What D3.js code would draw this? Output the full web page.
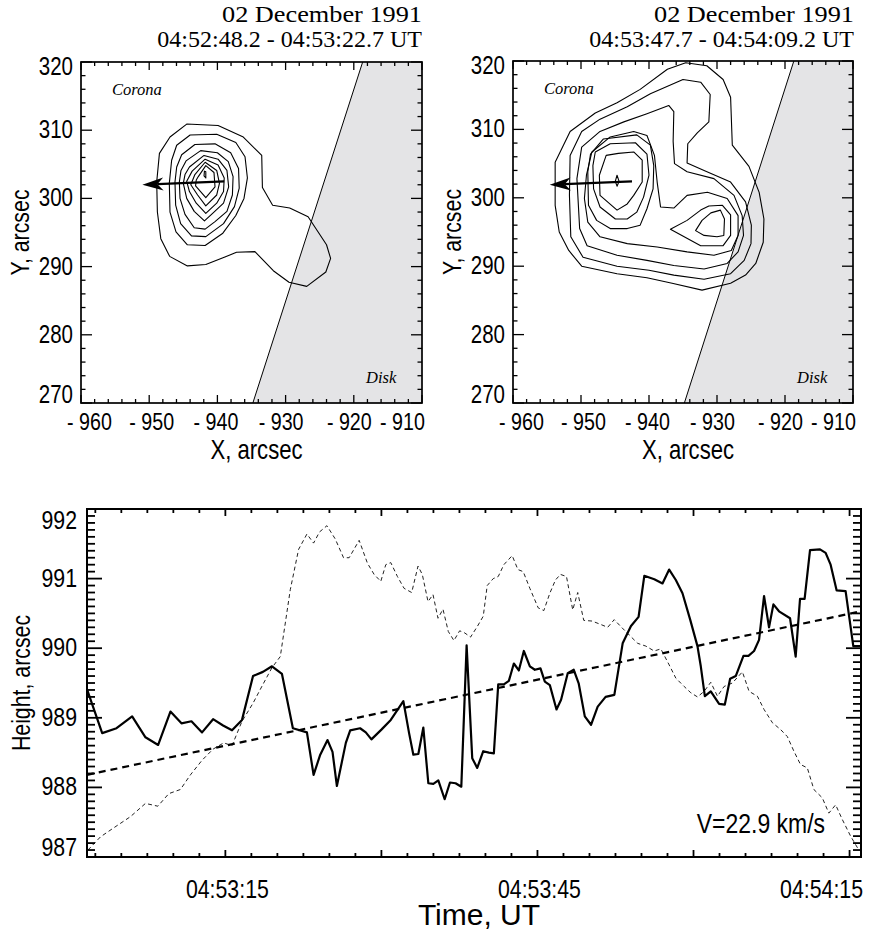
<!DOCTYPE html>
<html>
<head>
<meta charset="utf-8">
<script src="https://cdn.jsdelivr.net/npm/d3@7"></script>
<style>
  body { margin: 0; background: #fff; }
  svg { display: block; }
</style>
</head>
<body>
<svg id="fig" width="869" height="933"></svg>
<script>
// ---------------- data ----------------
const dateLabel = "02 December 1991";
const intervalLabels = ["04:52:48.2 - 04:53:22.7 UT", "04:53:47.7 - 04:54:09.2 UT"];

const mapXTicks = [-960, -950, -940, -930, -920, -910];
const mapYTicks = [270, 280, 290, 300, 310, 320];

// solar limb (straight segment across the field of view), arcsec
const limbX = [-934.8, -918.7];
const limbY = [270, 320];

// contours of the first map (arcsec), outermost first
const map1Outer = [[-946.95,309.0],[-944.5,310.9],[-939.9,310.7],[-936.2,309.0],[-933.5,306.3],[-933.4,301.6],[-931.9,299.0],[-929.4,298.6],[-926.7,297.3],[-924.0,293.2],[-923.4,291.2],[-924.1,289.2],[-926.9,287.1],[-929.5,287.7],[-931.8,289.4],[-934.5,292.2],[-937.2,292.1],[-938.9,291.4],[-941.7,290.3],[-944.4,290.1],[-947.0,291.5],[-948.3,294.1],[-948.8,298.0],[-948.9,302.4],[-948.5,306.6]];
const map1C2 = [[-945.97,307.8],[-944.0,309.3],[-940.1,309.4],[-937.3,308.2],[-935.95,306.1],[-935.6,303.0],[-936.1,300.0],[-937.3,297.5],[-939.2,294.9],[-941.8,293.1],[-944.4,293.2],[-946.07,295.1],[-946.95,298.0],[-947.05,302.2],[-946.71,305.6]];
const map1C3 = [[-945.24,306.4],[-943.3,307.9],[-940.35,308.0],[-938.05,306.7],[-936.9,304.4],[-936.8,301.5],[-937.5,298.8],[-939.1,296.3],[-941.7,294.4],[-943.8,294.5],[-945.39,296.3],[-946.12,299.0],[-946.22,302.4],[-945.97,304.6]];
const map1C4 = [[-944.6,305.5],[-942.45,307.0],[-940.0,306.7],[-938.4,305.4],[-937.7,303.2],[-937.8,300.5],[-938.6,298.1],[-940.35,296.6],[-941.8,295.5],[-943.4,295.7],[-944.75,297.65],[-945.48,300.0],[-945.58,302.4],[-945.34,304.1]];
const map1C5 = [[-944.1,304.6],[-941.96,306.3],[-939.9,305.75],[-938.6,304.1],[-938.35,301.7],[-939.1,299.3],[-940.7,297.8],[-941.9,296.7],[-943.4,298.1],[-944.5,300.0],[-945.0,302.2],[-944.75,303.5]];
const map1C6 = [[-943.7,304.0],[-941.8,305.75],[-939.9,304.9],[-939.0,303.0],[-939.1,301.0],[-940.1,299.3],[-941.7,297.8],[-943.1,299.3],[-944.1,301.0],[-944.5,302.5]];
const map1C7 = [[-943.3,303.5],[-941.8,305.3],[-940.1,304.1],[-939.7,302.2],[-940.1,300.5],[-941.7,298.9],[-942.9,300.5],[-943.9,302.0]];
const map1C8 = [[-942.8,303.2],[-941.7,304.8],[-940.5,303.8],[-940.35,301.7],[-941.7,300.1],[-943.2,301.85],[-943.1,302.7]];
const map1Peak = [[-941.9,304.0],[-941.7,303.9],[-941.7,303.0],[-941.96,303.3]];
const map1Arrow = { from: [-939.0, 302.5], to: [-951.0, 302.0] };

// contours of the second map (arcsec)
const map2Outer = [[-953.8,305.2],[-951.6,309.7],[-947.9,312.4],[-944.7,313.9],[-941.3,315.85],[-937.3,318.8],[-934.6,319.75],[-931.5,319.3],[-929.1,317.3],[-928.0,314.7],[-927.75,307.7],[-925.3,304.6],[-923.8,300.8],[-923.1,296.9],[-923.2,293.5],[-924.3,290.4],[-925.8,288.7],[-928.0,287.5],[-932.2,286.5],[-936.6,287.5],[-940.3,288.3],[-944.7,288.9],[-949.9,290.0],[-951.8,292.3],[-953.2,295.0],[-953.8,298.9]];
const map2C2 = [[-951.6,306.2],[-949.9,309.7],[-947.2,311.5],[-943.2,313.3],[-939.8,315.2],[-935.0,317.3],[-932.4,316.9],[-931.0,315.1],[-931.2,311.1],[-932.9,309.5],[-934.3,307.9],[-934.4,305.1],[-931.9,304.0],[-928.0,302.3],[-925.8,299.4],[-924.95,296.0],[-925.0,293.3],[-926.0,290.85],[-928.0,288.9],[-931.9,288.1],[-936.35,288.7],[-940.0,289.4],[-944.7,290.0],[-949.7,291.3],[-951.5,294.3],[-951.7,300.35]];
const map2C3 = [[-950.6,302.8],[-949.9,307.4],[-947.2,309.7],[-943.7,311.1],[-940.3,312.3],[-937.1,313.5],[-936.35,312.6],[-936.45,308.25],[-936.25,305.0],[-934.4,303.8],[-930.45,302.8],[-927.5,300.35],[-926.3,297.4],[-926.1,294.5],[-926.9,292.1],[-928.5,290.4],[-931.9,289.6],[-936.35,290.1],[-940.3,290.85],[-944.7,291.6],[-949.1,293.0],[-950.2,295.5]];
const map2C4 = [[-949.2,303.3],[-948.4,306.7],[-945.7,308.9],[-942.25,309.7],[-940.3,309.1],[-939.2,306.2],[-938.8,302.3],[-938.3,298.65],[-936.35,298.5],[-934.4,300.35],[-931.4,300.8],[-928.5,299.9],[-926.9,297.4],[-926.9,294.5],[-927.9,292.3],[-930.45,291.6],[-934.4,292.1],[-938.8,292.8],[-943.2,293.3],[-947.2,294.3],[-949.0,296.45],[-949.5,299.9]];
const map2C5 = [[-948.6,306.4],[-946.7,308.6],[-941.8,309.2],[-939.8,307.7],[-939.3,304.7],[-939.4,301.3],[-940.3,298.4],[-941.3,296.0],[-943.2,295.5],[-945.7,295.5],[-947.7,296.7],[-948.9,298.9],[-949.0,303.8]];
const map2C6 = [[-947.9,306.7],[-945.7,307.9],[-942.0,308.05],[-940.3,306.4],[-940.0,303.3],[-940.8,300.1],[-941.8,297.9],[-943.2,296.9],[-944.95,296.9],[-947.2,298.65],[-948.15,301.3],[-948.25,304.7]];
const map2C7 = [[-946.3,306.2],[-944.5,306.5],[-942.25,306.7],[-941.0,305.5],[-941.0,302.3],[-942.25,300.35],[-943.2,299.1],[-944.7,298.2],[-947.2,300.35],[-947.3,303.3]];
const map2Peak = [[-944.96,302.4],[-944.7,303.3],[-944.4,302.4],[-944.7,301.7]];
const map2Second1 = [[-936.85,295.4],[-934.4,296.7],[-932.4,298.2],[-931.2,298.8],[-929.2,298.9],[-928.0,297.5],[-928.0,294.5],[-929.1,293.0],[-932.4,293.0]];
const map2Second2 = [[-933.15,295.2],[-932.2,296.7],[-930.9,297.8],[-929.5,298.2],[-928.9,296.9],[-929.0,294.5],[-930.0,294.3],[-931.9,294.5]];
const map2Arrow = { from: [-942.5, 302.4], to: [-954.6, 301.9] };

// height-time plot
const epoch = Date.UTC(1991, 11, 2, 4, 53, 0);        // 04:53:00 UT
const timeRange = [1.7, 76.1];                          // seconds after epoch
const timeTickLabels = ["04:53:15", "04:53:45", "04:54:15"];
const heightTicks = [987, 988, 989, 990, 991, 992];

// source height (arcsec from disk centre)
const heightTimes = [1.72,3.16,4.54,6.04,7.32,8.54,9.72,10.78,11.74,12.76,13.82,14.78,15.64,16.60,17.66,18.61,19.48,20.44,21.49,22.84,23.48,24.12,24.82,25.30,25.72,26.58,27.00,27.95,28.50,29.04,30.00,30.90,32.11,32.66,33.07,33.55,34.03,34.51,34.99,35.47,36.08,36.59,37.13,37.68,38.19,38.73,39.21,39.79,40.33,40.81,41.23,41.77,42.25,42.73,43.21,43.69,44.27,44.75,45.29,45.71,46.19,46.83,47.27,47.91,48.49,48.97,49.55,50.15,50.79,51.55,52.39,53.19,53.99,54.72,55.27,56.23,57.02,57.66,58.30,58.94,59.68,60.38,60.70,61.09,61.66,62.46,63.01,63.52,64.06,64.80,65.28,65.82,66.30,66.78,67.26,67.68,68.22,69.28,69.82,70.24,70.68,71.20,72.16,72.70,73.18,73.76,74.62,75.36,76.06];
const heightValues = [989.40,988.78,988.85,989.02,988.72,988.61,989.09,988.92,988.95,988.79,988.98,988.89,988.82,988.97,989.60,989.66,989.74,989.63,988.85,988.79,988.18,988.47,988.68,988.51,988.02,988.64,988.82,988.85,988.79,988.69,988.83,988.97,989.24,988.78,988.47,988.48,988.86,988.06,988.05,988.10,987.83,988.07,988.06,988.01,990.04,988.42,988.28,988.52,988.50,988.49,989.48,989.48,989.53,989.78,989.68,989.96,989.74,989.69,989.71,989.52,989.47,989.12,989.26,989.64,989.69,989.49,989.02,988.90,989.16,989.30,989.33,990.07,990.32,990.45,991.04,990.99,990.93,991.13,990.98,990.79,990.41,990.03,989.74,989.31,989.38,989.20,989.19,989.56,989.60,989.89,989.89,989.96,990.12,990.75,990.30,990.63,990.53,990.43,989.88,990.71,990.71,991.41,991.42,991.37,991.20,990.83,990.82,990.03,990.03];

// light curve, plotted in the height units of the same axes
const fluxTimes = [1.79,3.00,4.28,5.88,7.32,8.51,9.56,10.68,11.64,12.76,13.82,14.84,15.64,16.60,17.66,18.61,19.48,20.28,21.24,22.04,22.84,23.48,24.05,24.76,25.56,26.36,26.90,27.86,28.66,29.30,29.94,30.42,30.90,31.54,32.18,32.91,33.52,33.93,34.48,34.96,35.44,35.92,36.43,36.97,37.52,38.00,38.57,39.21,39.79,40.17,40.75,41.23,41.77,42.57,43.12,43.63,44.27,45.07,45.61,46.19,46.73,47.21,47.79,48.39,48.87,49.45,50.25,51.10,51.75,52.38,53.02,53.82,54.63,55.42,56.22,56.86,57.66,58.30,59.10,59.74,60.38,61.02,61.66,62.30,62.94,63.74,64.70,65.34,66.14,66.78,67.58,68.38,69.02,69.65,70.28,70.94,71.57,72.38,73.01,73.66,74.30,75.10,75.89];
const fluxValues = [987.10,987.29,987.42,987.58,987.77,987.73,987.91,987.97,988.18,988.39,988.55,988.64,988.60,988.95,989.21,989.48,989.72,989.88,990.84,991.42,991.64,991.51,991.67,991.76,991.57,991.30,991.30,991.55,991.22,991.06,990.96,991.20,991.23,991.03,990.86,990.80,991.18,991.06,990.67,990.77,990.43,990.56,990.24,990.11,990.25,990.22,990.16,990.31,990.46,990.90,991.00,991.03,991.20,991.33,991.13,991.10,990.86,990.58,990.54,990.79,990.98,991.06,991.03,990.55,990.80,990.40,990.39,990.34,990.30,990.41,990.31,990.19,990.07,990.03,989.96,989.99,989.76,989.57,989.45,989.36,989.30,989.38,989.51,989.31,989.45,989.50,989.66,989.38,989.31,989.12,988.93,988.83,988.73,988.52,988.33,988.28,987.97,987.85,987.63,987.75,987.54,987.30,987.10];

// linear fit of the height: start value and speed
const fitStart = 988.18;        // arcsec at the start of the interval
const velocity = 22.9;          // km/s
const kmPerArcsec = 725;
const velocityLabel = "V=22.9 km/s";

// ---------------- drawing ----------------
const SANS = "'Liberation Sans',Arial,Helvetica,sans-serif";
const SERIF = "'Liberation Serif','Times New Roman',serif";
const NARROW = 0.82;   // horizontal squeeze giving a Helvetica-Narrow look
const svg = d3.select("#fig");

// sans label drawn with the narrow squeeze
function narrowText(g, x, y, str, size, anchor, angle) {
  return g.append("text")
    .attr("transform", `translate(${x},${y}) rotate(${angle || 0}) scale(${NARROW},1)`)
    .attr("text-anchor", anchor).attr("font-family", SANS).attr("font-size", size)
    .text(str);
}

function drawMap(box, contours, arrow, title2) {
  const x = d3.scaleLinear().domain([-960, -910]).range([box.x0, box.x1]);
  const y = d3.scaleLinear().domain([270, 320]).range([box.y1, box.y0]);
  const g = svg.append("g");

  // disk area to the right of the limb
  const disk = [[limbX[0], limbY[0]], [limbX[1], limbY[1]], [-910, 320], [-910, 270]];
  g.append("path")
    .attr("d", d3.line().x(d => x(d[0])).y(d => y(d[1])).curve(d3.curveLinearClosed)(disk))
    .attr("fill", "#e4e4e6");
  g.append("line")
    .attr("x1", x(limbX[0])).attr("y1", y(limbY[0]))
    .attr("x2", x(limbX[1])).attr("y2", y(limbY[1]))
    .attr("stroke", "#000").attr("stroke-width", 1);

  const contour = d3.line().x(d => x(d[0])).y(d => y(d[1])).curve(d3.curveLinearClosed);
  g.selectAll("path.c").data(contours).join("path")
    .attr("class", "c")
    .attr("d", contour)
    .attr("fill", "none").attr("stroke", "#000").attr("stroke-width", 1.1)
    .attr("stroke-linejoin", "round");

  // arrow showing the motion of the source
  const x1 = x(arrow.from[0]), y1 = y(arrow.from[1]);
  const x2 = x(arrow.to[0]), y2 = y(arrow.to[1]);
  const ang = Math.atan2(y2 - y1, x2 - x1);
  const L = 21, W = 6.5, N = 15;
  const rot = ([u, v]) => [x2 + u * Math.cos(ang) - v * Math.sin(ang), y2 + u * Math.sin(ang) + v * Math.cos(ang)];
  const shaftEnd = rot([-N, 0]);
  g.append("line").attr("x1", x1).attr("y1", y1).attr("x2", shaftEnd[0]).attr("y2", shaftEnd[1])
    .attr("stroke", "#000").attr("stroke-width", 2.2);
  const head = [[0, 0], [-L, -W], [-N, 0], [-L, W]].map(rot);
  g.append("path").attr("d", "M" + head.map(p => p.join(",")).join("L") + "Z").attr("fill", "#000");

  // region labels
  g.append("text").attr("x", box.x0 + 31).attr("y", box.y0 + 33)
    .attr("font-family", SERIF).attr("font-style", "italic").attr("font-size", 16.5).text("Corona");
  g.append("text").attr("x", box.x1 - 56).attr("y", box.y1 - 20)
    .attr("font-family", SERIF).attr("font-style", "italic").attr("font-size", 16.5).text("Disk");

  // frame and ticks on all four sides
  g.append("rect").attr("x", box.x0).attr("y", box.y0)
    .attr("width", box.x1 - box.x0).attr("height", box.y1 - box.y0)
    .attr("fill", "none").attr("stroke", "#000").attr("stroke-width", 1.7);
  const ticks = g.append("g").attr("stroke", "#000").attr("stroke-width", 1.3);
  d3.range(-960, -909, 2).forEach(v => {
    const len = v % 10 === 0 ? 8 : 4;
    ticks.append("line").attr("x1", x(v)).attr("x2", x(v)).attr("y1", box.y1).attr("y2", box.y1 - len);
    ticks.append("line").attr("x1", x(v)).attr("x2", x(v)).attr("y1", box.y0).attr("y2", box.y0 + len);
  });
  d3.range(270, 321, 2).forEach(v => {
    const len = v % 10 === 0 ? 11 : 4.5;
    ticks.append("line").attr("y1", y(v)).attr("y2", y(v)).attr("x1", box.x0).attr("x2", box.x0 + len);
    ticks.append("line").attr("y1", y(v)).attr("y2", y(v)).attr("x1", box.x1).attr("x2", box.x1 - len);
  });

  // tick labels (the row is set slightly tighter than the ticks, ends pulled inside)
  const xShift = [8.5, 2.5, -1.5, -4.5, -4.5, -19.5];
  mapXTicks.forEach((d, i) =>
    narrowText(g, x(d) + xShift[i], box.y1 + 27, "- " + Math.abs(d), 24, "middle"));
  const ny = mapYTicks.length;
  mapYTicks.forEach((d, i) =>
    narrowText(g, box.x0 - 8, y(d) + 8 + (i === 0 ? -8 : i === ny - 1 ? 5 : 0), String(d), 25, "end"));

  // axis titles
  narrowText(g, (box.x0 + box.x1) / 2 + 5, box.y1 + 56, "X, arcsec", 27, "middle");
  narrowText(g, box.x0 - 52, (box.y0 + box.y1) / 2, "Y, arcsec", 26, "middle", -90);

  // date and accumulation interval
  g.append("text").attr("x", box.x1 + box.tx).attr("y", 22)
    .attr("text-anchor", "end").attr("font-family", SERIF).attr("font-size", 24)
    .attr("textLength", 200).attr("lengthAdjust", "spacingAndGlyphs").text(dateLabel);
  g.append("text").attr("x", box.x1 + box.tx).attr("y", 47)
    .attr("text-anchor", "end").attr("font-family", SERIF).attr("font-size", 24).text(title2);
}

drawMap({ x0: 81, x1: 422, y0: 62, y1: 403, tx: 0 },
  [map1Outer, map1C2, map1C3, map1C4, map1C5, map1C6, map1C7, map1C8, map1Peak],
  map1Arrow, intervalLabels[0]);
drawMap({ x0: 513, x1: 853, y0: 61, y1: 403, tx: 1 },
  [map2Outer, map2C2, map2C3, map2C4, map2C5, map2C6, map2C7, map2Peak, map2Second1, map2Second2],
  map2Arrow, intervalLabels[1]);

// ---- height-time plot ----
(function () {
  const box = { x0: 87, x1: 861, y0: 509, y1: 857 };
  const toDate = s => new Date(epoch + s * 1000);
  const x = d3.scaleUtc().domain(timeRange.map(toDate)).range([box.x0, box.x1]);
  const y = d3.scaleLinear().domain([987, 992]).range([box.y1, box.y0]);
  const g = svg.append("g");

  const line = d3.line().x(d => x(toDate(d[0]))).y(d => y(d[1]));

  g.append("path").datum(fluxTimes.map((t, i) => [t, fluxValues[i]]))
    .attr("d", line).attr("fill", "none").attr("stroke", "#222")
    .attr("stroke-width", 1).attr("stroke-dasharray", "4,3");

  const slope = velocity / kmPerArcsec;   // arcsec per second
  const fit = timeRange.map(t => [t, fitStart + slope * (t - timeRange[0])]);
  g.append("path").datum(fit).attr("d", line).attr("fill", "none").attr("stroke", "#000")
    .attr("stroke-width", 2.2).attr("stroke-dasharray", "7,5");

  g.append("path").datum(heightTimes.map((t, i) => [t, heightValues[i]]))
    .attr("d", line).attr("fill", "none").attr("stroke", "#000")
    .attr("stroke-width", 2.2).attr("stroke-linejoin", "round");

  // frame and ticks
  g.append("rect").attr("x", box.x0).attr("y", box.y0)
    .attr("width", box.x1 - box.x0).attr("height", box.y1 - box.y0)
    .attr("fill", "none").attr("stroke", "#000").attr("stroke-width", 2);
  const ticks = g.append("g").attr("stroke", "#000").attr("stroke-width", 1.8);
  d3.range(1, 31).map(i => i * 2.5).forEach(s => {
    const len = s % 15 === 0 ? 7 : 4;
    const px = x(toDate(s));
    ticks.append("line").attr("x1", px).attr("x2", px).attr("y1", box.y1).attr("y2", box.y1 - len);
    ticks.append("line").attr("x1", px).attr("x2", px).attr("y1", box.y0).attr("y2", box.y0 + len);
  });
  d3.range(0, 51).forEach(i => {
    const v = 987 + i * 0.1;
    const len = i % 10 === 0 ? 15 : 8;
    ticks.append("line").attr("y1", y(v)).attr("y2", y(v)).attr("x1", box.x0).attr("x2", box.x0 + len);
    ticks.append("line").attr("y1", y(v)).attr("y2", y(v)).attr("x1", box.x1).attr("x2", box.x1 - len);
  });

  const parseT = d3.utcParse("%Y-%m-%d %H:%M:%S");
  const nt = timeTickLabels.length;
  timeTickLabels.forEach((d, i) =>
    narrowText(g, x(parseT("1991-12-02 " + d)) + (i === nt - 1 ? -28 : 2), box.y1 + 41, d, 26, "middle"));
  const nh = heightTicks.length;
  heightTicks.forEach((d, i) =>
    narrowText(g, box.x0 - 10, y(d) + 8 + (i === 0 ? -9 : i === nh - 1 ? 12 : 0), String(d), 26, "end"));

  g.append("text").attr("x", (box.x0 + box.x1) / 2 + 5).attr("y", box.y1 + 68)
    .attr("text-anchor", "middle").attr("font-family", SANS).attr("font-size", 30).text("Time, UT");
  narrowText(g, box.x0 - 57, (box.y0 + box.y1) / 2, "Height, arcsec", 26, "middle", -90);

  narrowText(g, box.x1 - 36, box.y1 - 24, velocityLabel, 28, "end");
})();
</script>
</body>
</html>
